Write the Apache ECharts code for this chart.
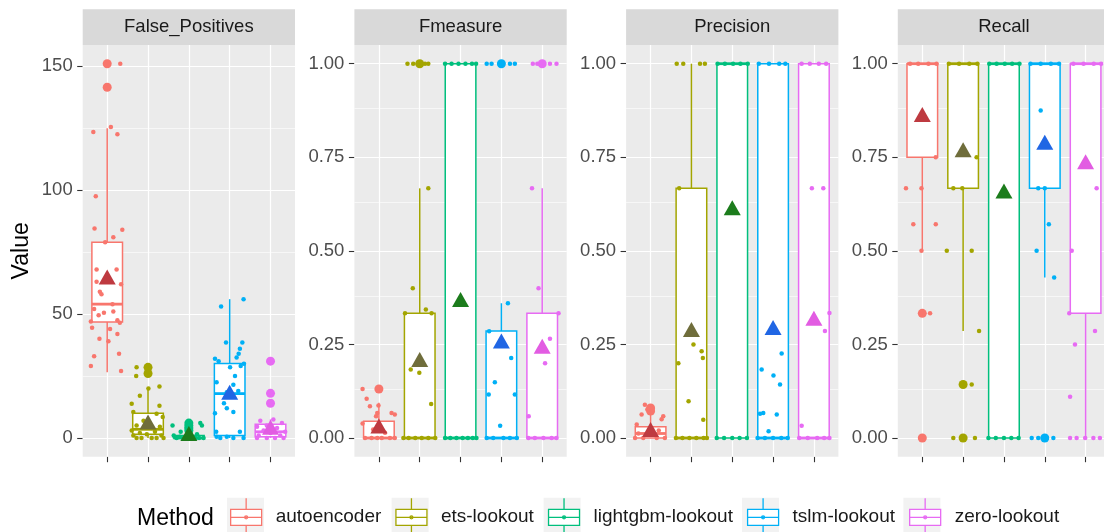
<!DOCTYPE html>
<html>
<head>
<meta charset="utf-8">
<style>
  html, body { margin: 0; padding: 0; background: #fff; }
  #chart { width: 1104px; height: 532px; }
</style>
<script src="https://cdn.jsdelivr.net/npm/echarts@6.0.0/dist/echarts.min.js"></script>
</head>
<body>
<div id="chart"></div>
<script>
const methods = ['autoencoder', 'ets-lookout', 'lightgbm-lookout', 'tslm-lookout', 'zero-lookout']
const metrics = ['False_Positives', 'Fmeasure', 'Precision', 'Recall']
const methodColors = ['#F8766D', '#A3A500', '#00BF7D', '#00B0F6', '#E76BF3']
const meanColors = ['#BE3A40', '#6F6D3B', '#1C7C1C', '#2066E4', '#E25CE2']

const countTicks = [0, 50, 100, 150]
const rateTicks = [0, 0.25, 0.5, 0.75, 1]

// boxes are [lower whisker, Q1, median, Q3, upper whisker]
const fpBoxes = [[26.5, 46.8, 54, 79, 125], [0, 1.5, 3.5, 10, 20.5], [0, 0, 0, 1, 2.5], [0, 1, 17.9, 30.1, 56], [0, 0.5, 2.5, 5.5, 7.5]]
const fpMeans = [65, 6.5, 1.8, 18.5, 4.3]
const fpOutliers = [[151, 141.5], [28.5, 26], [6, 5, 4, 3], [], [31, 18, 14]]
// jitter points are [horizontal offset, value]
const fpPoints = [
  [[.32, 151], [.02, 141.5], [-.34, 123.5], [.09, 125.5], [.25, 122.5], [-.28, 97.5], [-.31, 84.5], [.37, 84], [.15, 81], [-.05, 79], [-.26, 68], [.23, 68], [-.26, 63], [.34, 62], [-.18, 59], [-.14, 58], [.13, 54], [-.32, 52], [-.08, 50.5], [.15, 51], [-.21, 49.5], [.25, 47.5], [-.4, 47], [.31, 46.5], [-.37, 44.5], [.07, 44], [.25, 42], [-.19, 40], [.03, 39], [-.32, 33], [.29, 34], [-.4, 29], [.34, 27]],
  [[-.28, 28.5], [-.29, 25], [.28, 20.8], [.01, 20], [-.2, 17], [-.4, 13.8], [.28, 13], [-.36, 10.5], [.21, 9.8], [.36, 8.5], [-.11, 7], [-.28, 5], [.29, 4.5], [.09, 4], [-.4, 3], [.17, 2.5], [-.2, 2], [-.03, 1.5], [-.36, 1], [.33, 1], [.09, 0], [-.16, 0], [.21, 0], [-.28, 0], [.38, 0]],
  [[-.4, 5], [.28, 6], [.32, 5], [-.05, 4], [-.2, 2.5], [.2, 1.5], [-.37, 1], [.07, .5], [-.13, 0], [.36, 0], [-.3, 0], [.16, 0], [0, 0], [-.22, .5], [.25, 0]],
  [[-.21, 53], [.34, 56], [-.09, 38.5], [.31, 38.5], [.25, 36], [.22, 34], [-.36, 32], [-.27, 31], [.17, 32.5], [.35, 30], [.01, 28.5], [.27, 29], [.13, 25], [-.32, 22.5], [.09, 21.5], [.21, 19], [-.07, 18.5], [-.14, 14], [-.07, 12], [.09, 10.5], [-.36, 10], [-.33, 2.5], [.25, 2.5], [-.23, 0], [.09, 0], [.34, 0], [-.07, .5], [-.32, .5]],
  [[-.25, 7], [.07, 7.5], [.28, 6], [-.09, 5], [-.33, 4.5], [.16, 4], [-.17, 3], [.36, 2.5], [0, 2], [-.29, 1], [.24, 1], [-.09, 0], [.11, 0], [.32, 0], [-.33, 0]]
]

const fmBoxes = [[0, 0, 0, .045, .094], [0, 0, 0, .333, .667], [0, 0, 0, 1, 1], [0, 0, 0, .286, .36], [0, 0, 0, .333, .667]]
const fmMeans = [.032, .21, .37, .259, .245]
const fmOutliers = [[.131], [1], [], [1], [1]]
const fmPoints = [
  [[-.4, .131], [-.3, .105], [-.22, .085], [-.01, .087], [-.04, .067], [.31, .067], [.39, .063], [-.07, .058], [-.4, .039], [-.14, .023], [.15, .014], [-.34, 0], [-.18, 0], [.07, 0], [.27, 0], [.39, 0], [-.04, 0]],
  [[.21, .667], [-.17, .4], [.15, .343], [.29, .333], [-.36, .333], [-.22, .183], [-.01, .174], [.28, .091], [-.4, 0], [-.27, 0], [-.11, 0], [.05, 0], [.21, 0], [.38, 0], [-.3, 1], [-.16, 1], [.13, 1], [.21, 1], [-.05, 1]],
  [[-.38, 0], [-.25, 0], [-.1, 0], [.05, 0], [.18, 0], [.3, 0], [.39, 0], [-.38, 1], [-.22, 1], [-.05, 1], [.12, 1], [.28, 1], [.38, 1]],
  [[.16, .36], [-.3, .285], [-.31, .116], [-.16, .149], [.24, .214], [.33, .116], [-.03, .033], [-.36, 0], [-.2, 0], [.05, 0], [.21, 0], [.38, 0], [-.36, 1], [-.24, 1], [.21, 1], [.33, 1]],
  [[-.25, .667], [-.09, .4], [.19, .265], [.07, .2], [-.33, .058], [.4, .333], [-.34, 0], [-.18, 0], [.03, 0], [.23, 0], [.35, 0], [-.23, 1], [-.12, 1], [.19, 1], [.35, 1]]
]

const prBoxes = [[0, 0, .012, .03, .067], [0, 0, 0, .667, 1], [0, 0, 1, 1, 1], [0, 0, 0, 1, 1], [0, 0, 0, 1, 1]]
const prMeans = [.023, .29, .615, .295, .32]
const prOutliers = [[.08, .072], [], [], [], []]
const prPoints = [
  [[-.22, .063], [-.34, .036], [.31, .058], [.27, .05], [-.14, .089], [-.08, .076], [-.38, 0], [-.18, 0], [.15, 0], [.35, 0], [-.3, .012], [.05, .01], [.2, .02]],
  [[-.32, .2], [.05, .25], [.25, .232], [.28, .214], [-.07, .098], [.29, .049], [-.3, .667], [-.36, 1], [-.2, 1], [.21, 1], [.33, 1], [-.38, 0], [-.22, 0], [-.05, 0], [.12, 0], [.3, 0], [.38, 0]],
  [[-.38, 0], [-.2, 0], [0, 0], [.18, 0], [.36, 0], [-.36, 1], [-.18, 1], [.02, 1], [.2, 1], [.38, 1]],
  [[-.28, .183], [.01, .167], [.17, .143], [.21, .226], [-.32, .065], [-.24, .067], [.09, .063], [-.11, .018], [-.38, 0], [-.2, 0], [0, 0], [.2, 0], [.36, 0], [-.35, 1], [-.1, 1], [.15, 1], [.3, 1]],
  [[-.3, .033], [-.05, .667], [.23, .667], [.27, .286], [.38, .334], [-.36, 0], [-.15, 0], [.08, 0], [.25, 0], [.38, 0], [-.3, 1], [-.1, 1], [.12, 1], [.3, 1]]
]

const reBoxes = [[.5, .75, 1, 1, 1], [.286, .667, 1, 1, 1], [0, 0, 1, 1, 1], [.429, .667, 1, 1, 1], [0, .333, 1, 1, 1]]
const reMeans = [.864, .77, .66, .79, .738]
const reOutliers = [[.333, 0], [.143, 0], [], [0], []]
const rePoints = [
  [[-.4, .667], [-.02, .667], [-.22, .571], [.33, .571], [-.02, .5], [.33, .75], [.19, .333], [-.3, 1], [-.1, 1], [.15, 1], [.35, 1]],
  [[-.24, .667], [-.02, .667], [.33, .75], [-.4, .5], [.21, .5], [.39, .286], [.21, .143], [-.24, 0], [.29, 0], [-.35, 1], [-.1, 1], [.15, 1], [.35, 1]],
  [[-.38, 0], [-.2, 0], [0, 0], [.18, 0], [.36, 0], [-.36, 1], [-.18, 1], [.02, 1], [.2, 1], [.38, 1]],
  [[-.1, .875], [.1, .571], [-.2, .5], [.23, .429], [-.16, .667], [0, .667], [-.32, 0], [-.16, 0], [.21, 0], [-.35, 1], [-.1, 1], [.15, 1], [.35, 1]],
  [[-.34, .5], [-.26, .25], [-.38, .11], [.23, .286], [.27, .667], [-.4, .333], [-.38, 0], [-.22, 0], [-.01, 0], [.19, 0], [.35, 0], [-.3, 1], [-.05, 1], [.2, 1], [.38, 1]]
]

const panels = [
  { boxes: fpBoxes, means: fpMeans, outliers: fpOutliers, points: fpPoints, ticks: countTicks, min: -7.55, max: 158.55, fmt: v => String(v) },
  { boxes: fmBoxes, means: fmMeans, outliers: fmOutliers, points: fmPoints, ticks: rateTicks, min: -0.05, max: 1.05, fmt: v => v.toFixed(2) },
  { boxes: prBoxes, means: prMeans, outliers: prOutliers, points: prPoints, ticks: rateTicks, min: -0.05, max: 1.05, fmt: v => v.toFixed(2) },
  { boxes: reBoxes, means: reMeans, outliers: reOutliers, points: rePoints, ticks: rateTicks, min: -0.05, max: 1.05, fmt: v => v.toFixed(2) }
]

const FONT = 'Liberation Sans'
const panelLeft = [82.7, 354.4, 626.1, 897.8]
const panelWidth = 212.3
const panelTop = 45
const panelHeight = 411.7

function renderBox(params, api) {
  const x = api.value(0)
  const lo = api.coord([x, api.value(1)])
  const q1 = api.coord([x, api.value(2)])
  const md = api.coord([x, api.value(3)])
  const q3 = api.coord([x, api.value(4)])
  const hi = api.coord([x, api.value(5)])
  const w = api.size([0.75, 0])[0]
  const color = api.visual('color')
  const line = { stroke: color, lineWidth: 1.5 }
  return {
    type: 'group',
    children: [
      { type: 'line', shape: { x1: lo[0], y1: lo[1], x2: q1[0], y2: q1[1] }, style: line },
      { type: 'line', shape: { x1: q3[0], y1: q3[1], x2: hi[0], y2: hi[1] }, style: line },
      { type: 'rect', shape: { x: q3[0] - w / 2, y: q3[1], width: w, height: q1[1] - q3[1] }, style: { fill: '#fff', stroke: color, lineWidth: 1.5 } },
      { type: 'line', shape: { x1: md[0] - w / 2, y1: md[1], x2: md[0] + w / 2, y2: md[1] }, style: { stroke: color, lineWidth: 2.8 } }
    ]
  }
}

const grids = []
const xAxes = []
const yAxes = []
const series = []
const graphics = []

panels.forEach((p, i) => {
  grids.push({
    left: panelLeft[i], top: panelTop, width: panelWidth, height: panelHeight,
    show: true, backgroundColor: '#EBEBEB', borderWidth: 0, containLabel: false, outerBoundsMode: 'none'
  })
  xAxes.push({
    type: 'value', gridIndex: i, min: 0.4, max: 5.6, position: 'bottom',
    axisLine: { show: false, onZero: false },
    axisTick: { show: true, length: 5.5, customValues: [1, 2, 3, 4, 5], lineStyle: { color: '#333', width: 1.1 } },
    axisLabel: { show: true, customValues: [1, 2, 3, 4, 5], formatter: () => '' },
    splitLine: { show: false }
  })
  yAxes.push({
    type: 'value', gridIndex: i, min: p.min, max: p.max,
    axisLine: { show: false, onZero: false },
    axisTick: { show: true, length: 5.5, customValues: p.ticks, lineStyle: { color: '#333', width: 1.1 } },
    axisLabel: { customValues: p.ticks, formatter: p.fmt, color: '#4D4D4D', fontSize: 18.5, fontFamily: FONT, margin: 10 },
    splitLine: { show: false },
    name: i === 0 ? 'Value' : '',
    nameLocation: 'middle',
    nameGap: 50,
    nameTextStyle: { fontSize: 23, fontFamily: FONT, color: '#000' }
  })

  // panel grid lines, kept under the boxes
  const minor = p.ticks.slice(1).map((t, k) => (t + p.ticks[k]) / 2)
  const white = w => ({ color: '#fff', width: w, type: 'solid' })
  series.push({
    type: 'scatter', name: 'grid' + i, xAxisIndex: i, yAxisIndex: i, data: [], silent: true, z: 1,
    markLine: {
      z: 1, silent: true, symbol: ['none', 'none'], label: { show: false }, animation: false,
      emphasis: { disabled: true },
      data: [].concat(
        minor.map(v => ({ yAxis: v, lineStyle: white(0.6) })),
        p.ticks.map(v => ({ yAxis: v, lineStyle: white(1.2) })),
        [1, 2, 3, 4, 5].map(v => ({ xAxis: v, lineStyle: white(1.2) }))
      )
    }
  })

  methods.forEach((m, k) => {
    const x = k + 1
    series.push({
      type: 'custom', name: m, xAxisIndex: i, yAxisIndex: i, z: 2,
      renderItem: renderBox,
      itemStyle: { color: methodColors[k] },
      encode: { x: 0, y: [1, 2, 3, 4, 5] },
      data: [[x].concat(p.boxes[k])]
    })
    series.push({
      type: 'scatter', name: m, xAxisIndex: i, yAxisIndex: i, z: 3,
      symbolSize: 9, itemStyle: { color: methodColors[k], opacity: 1 },
      data: p.outliers[k].map(v => [x, v])
    })
    series.push({
      type: 'scatter', name: m, xAxisIndex: i, yAxisIndex: i, z: 3,
      symbolSize: 4.5, itemStyle: { color: methodColors[k], opacity: 1 },
      data: p.points[k].map(d => [x + d[0], d[1]])
    })
    series.push({
      type: 'scatter', name: m, xAxisIndex: i, yAxisIndex: i, z: 4,
      symbol: 'triangle', symbolSize: [17, 15], itemStyle: { color: meanColors[k], opacity: 1 },
      data: [[x, p.means[k]]]
    })
  })

  // facet strip
  graphics.push({
    type: 'rect', shape: { x: panelLeft[i], y: 9.3, width: panelWidth, height: panelTop - 9.3 }, style: { fill: '#D9D9D9' }, z: 0
  })
  graphics.push({
    type: 'text', x: panelLeft[i] + panelWidth / 2, y: (9.3 + panelTop) / 2,
    style: { text: metrics[i], fill: '#1A1A1A', font: '18.5px "' + FONT + '"', align: 'center', verticalAlign: 'middle' }, z: 1
  })
})

// legend title and grey key backgrounds
const legendLeft = 230
const legendTop = 497.7
const keyW = 31
const keyH = 37
const keyGap = 14
const textPad = 9
const legendFont = 19
graphics.push({
  type: 'text', x: 137, y: 519,
  style: { text: 'Method', fill: '#000', font: '23px "' + FONT + '"', align: 'left', verticalAlign: 'middle' }
})
const ctx = document.createElement('canvas').getContext('2d')
ctx.font = legendFont + 'px "' + FONT + '"'
let keyX = legendLeft
methods.forEach(m => {
  graphics.push({
    type: 'rect', z: -1, shape: { x: keyX - 3, y: legendTop, width: keyW + 6, height: keyH }, style: { fill: '#F2F2F2' }
  })
  keyX += keyW + 5 + textPad + ctx.measureText(m).width + keyGap
})

const keyIcon = 'path://M15.5,0L15.5,11M0,11L31,11L31,27L0,27ZM0,19L31,19M15.5,27L15.5,37M17,19A1.5,1.5,0,1,1,14,19A1.5,1.5,0,1,1,17,19Z'

const chart = echarts.init(document.getElementById('chart'))
chart.setOption({
  animation: false,
  backgroundColor: '#fff',
  grid: grids,
  xAxis: xAxes,
  yAxis: yAxes,
  series: series,
  graphic: graphics,
  legend: {
    left: legendLeft, top: legendTop, orient: 'horizontal', padding: 0,
    itemWidth: keyW, itemHeight: keyH, itemGap: keyGap,
    selectedMode: false,
    textStyle: { fontSize: legendFont, fontFamily: FONT, color: '#1A1A1A', padding: [10, 0, 0, textPad] },
    data: methods.map((m, k) => ({
      name: m, icon: keyIcon,
      itemStyle: { color: '#fff', borderColor: methodColors[k], borderWidth: 1.3 }
    }))
  }
})
</script>
</body>
</html>
